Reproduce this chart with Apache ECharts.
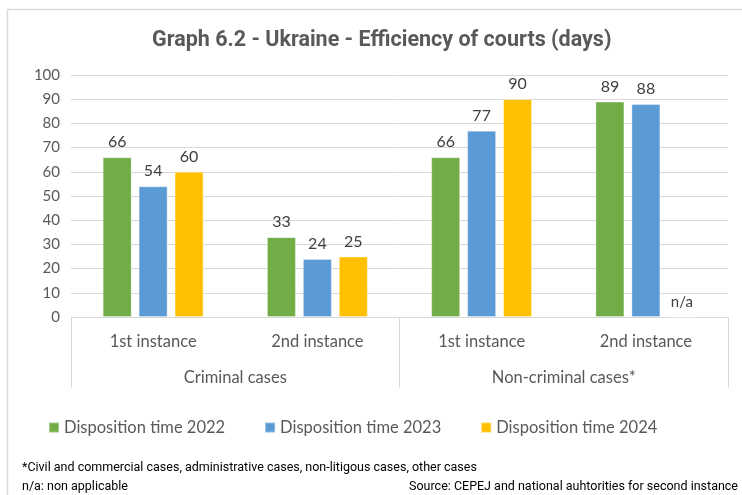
<!DOCTYPE html>
<html>
<head>
<meta charset="utf-8">
<script src="https://cdn.jsdelivr.net/npm/echarts@6/dist/echarts.min.js"></script>
<style>
  html, body { margin: 0; padding: 0; background: #fff; }
  #chart { width: 742px; height: 495px; }
</style>
</head>
<body>
<div id="chart"></div>
<script>
// sub categories (first level) and groups (second level)
const instances = ['1st instance', '2nd instance', '1st instance', '2nd instance'];
const groups = ['Criminal cases', 'Non-criminal cases*'];

// disposition time in days; the last 2024 value is not applicable
const dt2022 = [66, 33, 66, 89];
const dt2023 = [54, 24, 77, 88];
const dt2024 = [60, 25, 90, null];

const yTicks = [0, 10, 20, 30, 40, 50, 60, 70, 80, 90, 100];

const chart = echarts.init(document.getElementById('chart'));

const txt = '#595959';
const lineCol = '#d9d9d9';
const labelFont = 'Lato';
const noteFont = '12.5px Roboto';

function series(name, values, color) {
    return {
        name: name,
        type: 'bar',
        xAxisIndex: 0,
        barWidth: 29,
        barGap: '24%',
        itemStyle: { color: color, borderColor: 'rgba(255,255,255,0.35)', borderWidth: 1 },
        label: {
            show: true,
            position: 'top',
            distance: 7,
            color: '#404040',
            fontFamily: labelFont,
            fontSize: 16
        },
        data: values.map(v => v === null
            ? { value: 0, label: { formatter: 'n/a', fontSize: 15 } }
            : v)
    };
}

chart.setOption({
    backgroundColor: '#ffffff',
    animation: false,
    title: {
        text: 'Graph 6.2 - Ukraine - Efficiency of courts (days)',
        left: 147,
        top: 25,
        textStyle: {
            color: txt,
            fontFamily: 'Roboto',
            fontWeight: 'bold',
            fontSize: 21.5
        }
    },
    graphic: [{
        type: 'rect',
        shape: { x: 7.5, y: 9.5, width: 800, height: 600 },
        style: { fill: 'none', stroke: lineCol, lineWidth: 1.5 },
        z: -1
    }, {
        type: 'text',
        left: 22,
        top: 461,
        style: {
            text: '*Civil and commercial cases, administrative cases, non-litigous cases, other cases',
            fill: '#000',
            font: noteFont
        }
    }, {
        type: 'text',
        left: 22,
        top: 480,
        style: {
            text: 'n/a: non applicable',
            fill: '#000',
            font: noteFont
        }
    }, {
        type: 'text',
        right: 4,
        top: 480,
        style: {
            text: 'Source: CEPEJ and national auhtorities for second instance',
            fill: '#000',
            font: noteFont
        }
    }],
    legend: {
        left: 43,
        top: 414,
        itemWidth: 10,
        itemHeight: 10,
        itemGap: 39,
        icon: 'rect',
        textStyle: { color: txt, fontFamily: labelFont, fontSize: 16.5 },
        data: ['Disposition time 2022', 'Disposition time 2023', 'Disposition time 2024']
    },
    grid: { left: 71, right: 14, top: 75, bottom: 178 },
    xAxis: [{
        type: 'category',
        data: instances,
        position: 'bottom',
        axisLine: { show: true, lineStyle: { color: lineCol, width: 1 } },
        axisTick: { show: false },
        axisLabel: { color: txt, fontFamily: labelFont, fontSize: 16.5, margin: 16 }
    }, {
        type: 'category',
        data: groups,
        position: 'bottom',
        axisLine: { show: false },
        axisTick: { show: true, length: 71, lineStyle: { color: lineCol, width: 1 } },
        axisLabel: { color: txt, fontFamily: labelFont, fontSize: 16.5, margin: 52 },
        splitLine: { show: false }
    }],
    yAxis: {
        type: 'value',
        min: yTicks[0],
        max: yTicks[yTicks.length - 1],
        interval: 10,
        axisLine: { show: false },
        axisTick: { show: false },
        axisLabel: { color: txt, fontFamily: labelFont, fontSize: 15, margin: 11 },
        splitLine: { lineStyle: { color: lineCol, width: 1 } }
    },
    series: [
        series('Disposition time 2022', dt2022, '#70ad47'),
        series('Disposition time 2023', dt2023, '#5b9bd5'),
        series('Disposition time 2024', dt2024, '#ffc000')
    ]
});
</script>
</body>
</html>
